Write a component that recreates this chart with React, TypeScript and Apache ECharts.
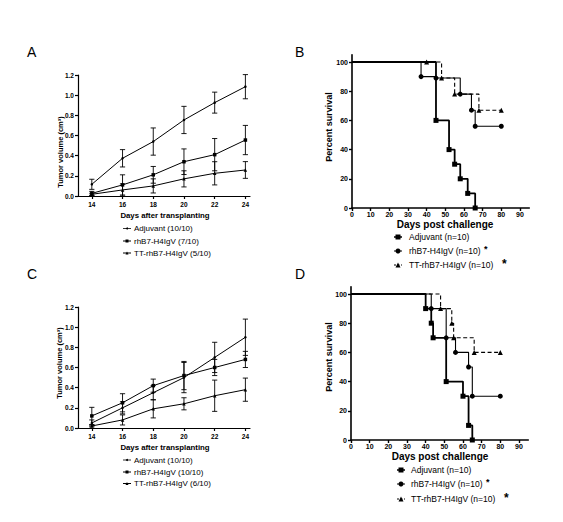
import React, { useEffect, useRef } from "react";
import * as echarts from "echarts";

const FONT = 'Arial, "Liberation Sans", Helvetica, sans-serif';

// ---------- Tumor volume data (panels A and C) ----------
const days = [14, 16, 18, 20, 22, 24];
const volTicksX = [14, 16, 18, 20, 22, 24];

const aAdjuvant = [0.116, 0.374, 0.54, 0.754, 0.926, 1.084];
const aAdjuvantErr = [0.05, 0.086, 0.135, 0.135, 0.104, 0.12];
const aRhB7 = [0.026, 0.11, 0.21, 0.34, 0.41, 0.555];
const aRhB7Err = [0.02, 0.1, 0.083, 0.127, 0.16, 0.145];
const aTT = [0.017, 0.06, 0.1, 0.17, 0.225, 0.258];
const aTTErr = [0.01, 0.06, 0.07, 0.08, 0.115, 0.083];

const cAdjuvant = [0.05, 0.2, 0.35, 0.5, 0.7, 0.9];
const cAdjuvantErr = [0.03, 0.06, 0.07, 0.15, 0.15, 0.18];
const cRhB7 = [0.12, 0.25, 0.42, 0.52, 0.6, 0.68];
const cRhB7Err = [0.085, 0.09, 0.065, 0.14, 0.08, 0.08];
const cTT = [0.02, 0.08, 0.19, 0.24, 0.32, 0.38];
const cTTErr = [0.01, 0.05, 0.09, 0.06, 0.155, 0.115];

// ---------- Survival data (panels B and D), [day, percent] ----------
const survTicksX = [0, 10, 20, 30, 40, 50, 60, 70, 80, 90];
const survTicksY = [0, 20, 40, 60, 80, 100];

const bAdjuvant = [[0, 100], [45, 60], [52, 40], [55, 30], [58, 20], [62, 10], [66, 0]];
const bRhB7 = [[0, 100], [37, 90], [45, 89], [58, 78], [64, 67], [66, 56], [80, 56]];
const bTT = [[0, 100], [40, 100], [48, 89], [55, 78], [68, 67], [80, 67]];

const dAdjuvant = [[0, 100], [40, 90], [43, 80], [44, 70], [51, 40], [60, 30], [63, 10], [65, 0]];
const dRhB7 = [[0, 100], [43, 90], [51, 70], [56, 60], [63, 50], [65, 30], [80, 30]];
const dTT = [[0, 100], [48, 90], [54, 80], [55, 70], [66, 60], [80, 60]];

const legendA = ["Adjuvant (10/10)", "rhB7-H4IgV (7/10)", "TT-rhB7-H4IgV (5/10)"];
const legendC = ["Adjuvant (10/10)", "rhB7-H4IgV (10/10)", "TT-rhB7-H4IgV (6/10)"];
const legendSurv = ["Adjuvant (n=10)", "rhB7-H4IgV (n=10)", "TT-rhB7-H4IgV (n=10)"];

function volXAxis(gridIndex: number) {
  return {
    type: "value",
    gridIndex,
    min: 13.1,
    max: 24.3,
    axisLine: { show: true, onZero: false, lineStyle: { color: "#000", width: 1.2 } },
    axisTick: { show: true, length: 3, customValues: volTicksX, lineStyle: { color: "#000", width: 1.2 } },
    axisLabel: { customValues: volTicksX, color: "#000", fontSize: 6.5, fontWeight: "bold", fontFamily: FONT, margin: 5 },
    splitLine: { show: false },
  };
}
function volYAxis(gridIndex: number) {
  return {
    type: "value",
    gridIndex,
    min: 0,
    max: 1.2,
    interval: 0.2,
    axisLine: { show: true, lineStyle: { color: "#000", width: 1.2 } },
    axisTick: { show: true, length: 3, lineStyle: { color: "#000", width: 1.2 } },
    axisLabel: {
      color: "#000",
      fontSize: 6.5,
      fontWeight: "bold",
      fontFamily: FONT,
      margin: 4,
      formatter: (v: number) => v.toFixed(1),
    },
    splitLine: { show: false },
  };
}
function survXAxis(gridIndex: number) {
  return {
    type: "value",
    gridIndex,
    min: 0,
    max: 95,
    axisLine: { show: true, onZero: false, lineStyle: { color: "#000", width: 1.6 } },
    axisTick: { show: true, length: 3, customValues: survTicksX, lineStyle: { color: "#000", width: 1.4 } },
    axisLabel: { customValues: survTicksX, color: "#000", fontSize: 7, fontWeight: "bold", fontFamily: FONT, margin: 3 },
    splitLine: { show: false },
  };
}
function survYAxis(gridIndex: number) {
  return {
    type: "value",
    gridIndex,
    min: 0,
    max: 105,
    axisLine: { show: true, lineStyle: { color: "#000", width: 1.6 } },
    axisTick: { show: true, length: 3, customValues: survTicksY, lineStyle: { color: "#000", width: 1.4 } },
    axisLabel: { customValues: survTicksY, color: "#000", fontSize: 7, fontWeight: "bold", fontFamily: FONT, margin: 4 },
    splitLine: { show: false },
  };
}

function volLine(idx: number, vals: number[], symbol: string, size: number) {
  return {
    type: "line",
    xAxisIndex: idx,
    yAxisIndex: idx,
    data: days.map((d, i) => [d, vals[i]]),
    symbol,
    symbolSize: size,
    showSymbol: true,
    itemStyle: { color: "#000" },
    lineStyle: { color: "#000", width: 1 },
    z: 3,
  };
}

function errBars(idx: number, vals: number[], errs: number[]) {
  return {
    type: "custom",
    xAxisIndex: idx,
    yAxisIndex: idx,
    data: days.map((d, i) => [d, vals[i], errs[i]]),
    encode: { x: 0, y: 1 },
    z: 2,
    renderItem: (params: any, api: any) => {
      const x = api.value(0);
      const y = api.value(1);
      const e = api.value(2);
      const top = api.coord([x, y + e]);
      const bot = api.coord([x, Math.max(0, y - e)]);
      const hw = 2.6;
      const st = { stroke: "#000", lineWidth: 0.9 };
      return {
        type: "group",
        children: [
          { type: "line", shape: { x1: top[0], y1: top[1], x2: bot[0], y2: bot[1] }, style: st },
          { type: "line", shape: { x1: top[0] - hw, y1: top[1], x2: top[0] + hw, y2: top[1] }, style: st },
          { type: "line", shape: { x1: bot[0] - hw, y1: bot[1], x2: bot[0] + hw, y2: bot[1] }, style: st },
        ],
      };
    },
  };
}

function survLine(idx: number, pts: number[][], symbol: string, size: number, width: number, dashed: boolean) {
  return {
    type: "line",
    xAxisIndex: idx,
    yAxisIndex: idx,
    step: "end",
    data: pts.map((p, i) => (i === 0 ? { value: p, symbol: "none" } : { value: p })),
    symbol,
    symbolSize: size,
    showSymbol: true,
    itemStyle: { color: "#000" },
    lineStyle: { color: "#000", width, type: dashed ? [4, 2.5] : "solid" },
    z: 3,
  };
}

function marker(kind: string, x: number, y: number, s: number) {
  if (kind === "rect") return { type: "rect", shape: { x: x - s / 2, y: y - s / 2, width: s, height: s }, style: { fill: "#000" } };
  if (kind === "circle") return { type: "circle", shape: { cx: x, cy: y, r: s / 2 }, style: { fill: "#000" } };
  return {
    type: "polygon",
    shape: { points: [[x, y - s / 2], [x - s / 2, y + s / 2], [x + s / 2, y + s / 2]] },
    style: { fill: "#000" },
  };
}

function legendRow(
  mx: number,
  y: number,
  half: number,
  kind: string,
  ms: number,
  dashed: boolean,
  tx: number,
  text: string,
  fs: number,
  lw: number
) {
  return [
    {
      type: "line",
      shape: { x1: mx - half, y1: y, x2: mx + half, y2: y },
      style: { stroke: "#000", lineWidth: lw, lineDash: dashed ? [2, 1.5] : null },
    },
    marker(kind, mx, y, ms),
    {
      type: "text",
      x: tx,
      y,
      style: { text, fill: "#000", fontSize: fs, fontFamily: FONT, verticalAlign: "middle", align: "left" },
    },
  ];
}

function txt(text: string, x: number, y: number, fs: number, bold: boolean, rot = 0, align = "center") {
  return {
    type: "text",
    x,
    y,
    rotation: rot,
    style: {
      text,
      fill: "#000",
      fontSize: fs,
      fontWeight: bold ? "bold" : "normal",
      fontFamily: FONT,
      align,
      verticalAlign: "middle",
    },
  };
}

export default function App() {
  const ref = useRef<HTMLDivElement>(null);
  useEffect(() => {
    if (!ref.current) return;
    const chart = echarts.init(ref.current, undefined, { renderer: "svg" });

    const graphic: any[] = [
      txt("A", 27, 52, 14, false, 0, "left"),
      txt("B", 295, 52, 14, false, 0, "left"),
      txt("C", 27, 274, 14, false, 0, "left"),
      txt("D", 295, 274, 14, false, 0, "left"),
      txt("Tumor volume (cm³)", 60, 152, 7.5, true, Math.PI / 2),
      txt("Tumor volume (cm³)", 59, 363, 7.5, true, Math.PI / 2),
      txt("Percent survival", 329, 127, 9, true, Math.PI / 2),
      txt("Percent survival", 329, 357, 9, true, Math.PI / 2),
      txt("Days after transplanting", 165, 215, 7.8, true),
      txt("Days after transplanting", 165, 447, 7.8, true),
      txt("Days post challenge", 445, 224.5, 10, true),
      txt("Days post challenge", 440, 456.5, 10, true),
      ...legendRow(127, 228.5, 4, "circle", 2, false, 134, legendA[0], 8, 0.8),
      ...legendRow(127, 241, 4, "rect", 3, false, 134, legendA[1], 8, 1),
      ...legendRow(127, 253, 4, "triangle", 3, false, 134, legendA[2], 8, 1),
      ...legendRow(127, 460, 4, "circle", 2, false, 134, legendC[0], 8, 0.8),
      ...legendRow(127, 472, 4, "rect", 3, false, 134, legendC[1], 8, 1),
      ...legendRow(127, 483.5, 4, "triangle", 3, false, 134, legendC[2], 8, 1),
      ...legendRow(398, 237, 4, "rect", 5, false, 409, legendSurv[0], 8.5, 1.5),
      ...legendRow(398, 251, 4, "circle", 5, false, 409, legendSurv[1], 8.5, 1),
      ...legendRow(398, 265, 4, "triangle", 5, true, 409, legendSurv[2], 8.5, 1),
      ...legendRow(401, 470, 4, "rect", 5, false, 411, legendSurv[0], 8.5, 1.5),
      ...legendRow(401, 484, 4, "circle", 5, false, 411, legendSurv[1], 8.5, 1),
      ...legendRow(401, 499, 4, "triangle", 5, true, 411, legendSurv[2], 8.5, 1),
      txt("*", 484, 249, 9, true, 0, "left"),
      txt("*", 502, 264, 12, true, 0, "left"),
      txt("*", 486, 482, 9, true, 0, "left"),
      txt("*", 504, 498, 12, true, 0, "left"),
    ];

    const option: any = {
      animation: false,
      backgroundColor: "#fff",
      textStyle: { fontFamily: FONT },
      grid: [
        { left: 78, top: 75, width: 172, height: 121 },
        { left: 352, top: 54.7, width: 177.3, height: 153.3 },
        { left: 78, top: 307, width: 172, height: 121 },
        { left: 351, top: 286.7, width: 177.3, height: 153.3 },
      ],
      xAxis: [volXAxis(0), survXAxis(1), volXAxis(2), survXAxis(3)],
      yAxis: [volYAxis(0), survYAxis(1), volYAxis(2), survYAxis(3)],
      series: [
        errBars(0, aAdjuvant, aAdjuvantErr),
        errBars(0, aRhB7, aRhB7Err),
        errBars(0, aTT, aTTErr),
        volLine(0, aAdjuvant, "circle", 2.5),
        volLine(0, aRhB7, "rect", 3.5),
        volLine(0, aTT, "triangle", 3.5),
        survLine(1, bAdjuvant, "rect", 5, 1.8, false),
        survLine(1, bRhB7, "circle", 5, 1.1, false),
        survLine(1, bTT, "triangle", 5, 1.1, true),
        errBars(2, cAdjuvant, cAdjuvantErr),
        errBars(2, cRhB7, cRhB7Err),
        errBars(2, cTT, cTTErr),
        volLine(2, cAdjuvant, "circle", 2.5),
        volLine(2, cRhB7, "rect", 3.5),
        volLine(2, cTT, "triangle", 3.5),
        survLine(3, dAdjuvant, "rect", 5, 1.8, false),
        survLine(3, dRhB7, "circle", 5, 1.1, false),
        survLine(3, dTT, "triangle", 5, 1.1, true),
      ],
      graphic,
    };
    chart.setOption(option);
    return () => chart.dispose();
  }, []);
  return (
    <div
      ref={ref}
      style={{ position: "absolute", left: 0, top: 0, width: 563, height: 522, background: "#fff" }}
    />
  );
}
